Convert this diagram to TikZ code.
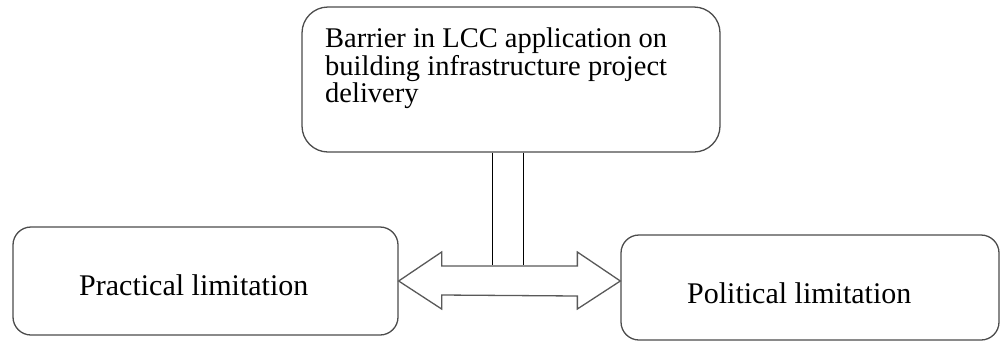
\documentclass[tikz,border=0pt]{standalone}
\usepackage{fontspec}
\setmainfont{Liberation Serif}
\usetikzlibrary{calc}
\begin{document}
\begin{tikzpicture}[x=1pt,y=-1pt,
  boxstyle/.style={draw=black!70, line width=1.3pt, rounded corners=18pt, fill=white},
  label/.style={font=\fontsize{28.5}{29}\selectfont, text=black, inner sep=0pt},
  biglabel/.style={font=\fontsize{30}{32}\selectfont, text=black, inner sep=0pt},
  link/.style={draw=black, line width=1pt},
  bigarrow/.style={draw=black!65, line width=1.3pt, fill=white, line join=miter}]
  \useasboundingbox (0,0) rectangle (1001,341);

  % the three boxes
  \node[boxstyle, rounded corners=26pt, minimum width=418pt, minimum height=145pt] (T) at (511,79.5) {};
  \node[boxstyle, minimum width=385pt, minimum height=108pt] (L) at (205.5,281) {};
  \node[boxstyle, minimum width=378pt, minimum height=105pt] (R) at (810,287.5) {};

  % texts
  \node[label, anchor=base west] (Tt) at (325,47) {Barrier in LCC application on};
  \node[label, anchor=base west] (Tt2) at (325,75) {building infrastructure project};
  \node[label, anchor=base west] (Tt3) at (325,102) {delivery};
  \node[biglabel, anchor=base west] (Lt) at (79,295) {Practical limitation};
  \node[biglabel, anchor=base west] (Rt) at (687,303) {Political limitation};

  % double-headed block arrow between the two lower boxes
  \coordinate (ltip) at (L.east);
  \coordinate (rtip) at (R.west |- L.east);
  \draw[bigarrow] (ltip) -- ++(43,-29) -- ++(0,14) -- ($(rtip)+(-43,-15)$)
     -- ++(0,-14) -- (rtip) -- ++(-43,28) -- ++(0,-13)
     -- ($(ltip)+(43,14)$) -- ++(0,14) -- cycle;

  % twin stem from the top box down to the arrow shaft
  \coordinate (s1) at (492,265);
  \coordinate (s2) at (523,265);
  \draw[link] (s1 |- T.south) -- (s1);
  \draw[link] (s2 |- T.south) -- (s2);
\end{tikzpicture}
\end{document}
